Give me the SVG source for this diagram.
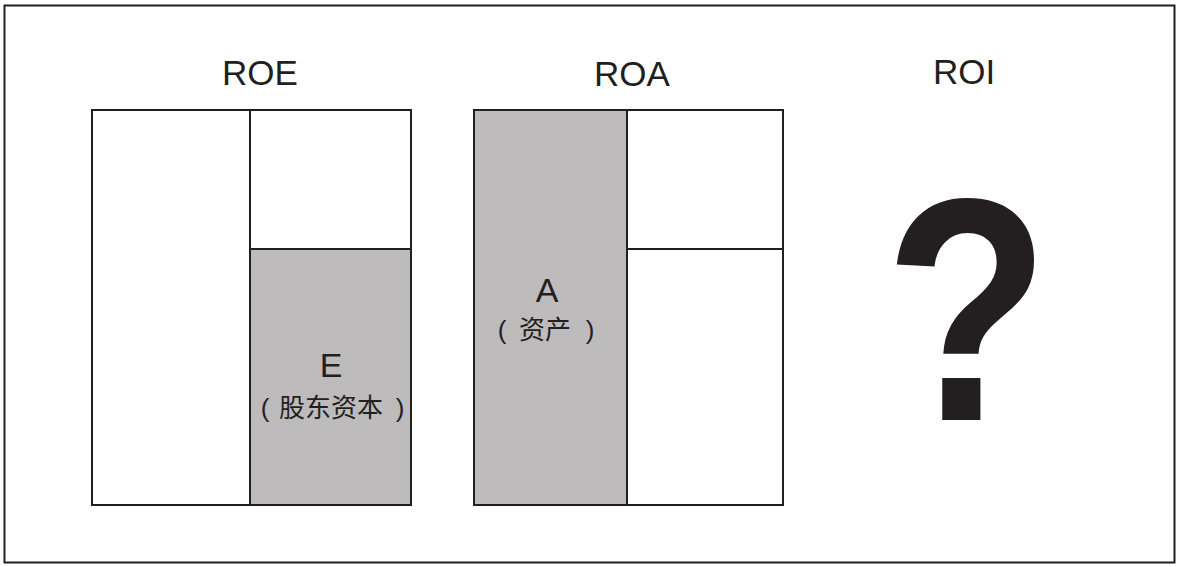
<svg xmlns="http://www.w3.org/2000/svg" width="1180" height="567" viewBox="0 0 1180 567">
<style>
.ln{fill:none;stroke:#231f20;stroke-width:2}
.gr{fill:#bdbbbc}
.t{font-family:"Liberation Sans",Arial,sans-serif;fill:#231f20;text-anchor:middle}
.h{font-size:35px}
.c{font-family:"Liberation Sans","Noto Sans CJK SC",sans-serif;font-size:26px;fill:#231f20;text-anchor:middle}
</style>
<rect x="0" y="0" width="1180" height="567" fill="#fff"/>
<rect id="frame" class="ln" x="4.5" y="5.5" width="1170" height="557" stroke-width="2.5"/>
<g id="roe">
<text class="t h" x="260" y="85">ROE</text>
<rect class="gr" x="250" y="249" width="161" height="256"/>
<rect class="ln" x="92" y="110" width="319" height="395"/>
<line class="ln" x1="250" y1="110" x2="250" y2="505"/>
<line class="ln" x1="250" y1="249" x2="411" y2="249"/>
<text class="t" x="331" y="377" font-size="34">E</text>
<text class="c" x="332" y="417"><tspan x="265">(</tspan><tspan x="331">股东资本</tspan><tspan x="400">)</tspan></text>
</g>
<g id="roa">
<text class="t h" x="632" y="86">ROA</text>
<rect class="gr" x="474" y="110" width="153" height="395"/>
<rect class="ln" x="474" y="110" width="309" height="395"/>
<line class="ln" x1="627" y1="110" x2="627" y2="505"/>
<line class="ln" x1="627" y1="249" x2="783" y2="249"/>
<text class="t" x="547" y="302" font-size="34">A</text>
<text class="c" x="546" y="339"><tspan x="502">(</tspan><tspan x="545">资产</tspan><tspan x="590">)</tspan></text>
</g>
<g id="roi">
<text class="t h" x="964" y="84">ROI</text>
<text class="t" transform="translate(967 420) scale(0.85 1)" x="0" y="0" font-size="318" font-weight="bold">?</text>
</g>
</svg>
